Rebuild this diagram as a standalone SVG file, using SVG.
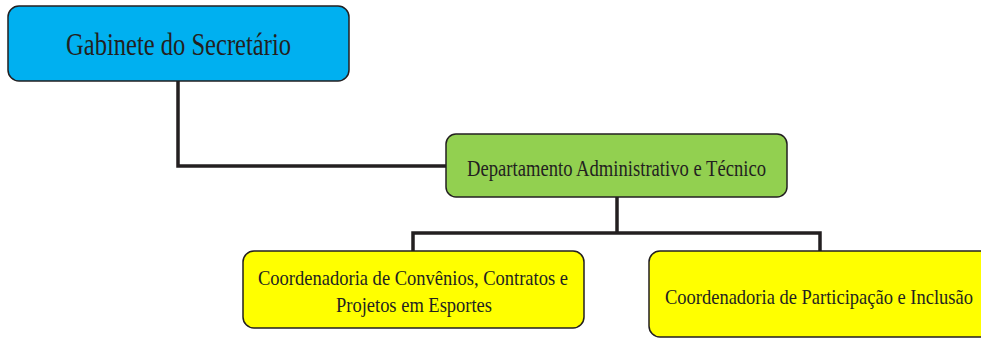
<svg xmlns="http://www.w3.org/2000/svg" width="981" height="338" viewBox="0 0 981 338">
<style>
.box{stroke:#231F20;stroke-width:1.5}
.t{font-family:"Liberation Serif","Times New Roman",serif;fill:#231F20;text-anchor:middle}
.c{fill:none;stroke:#231F20;stroke-width:3.5}
</style>
<rect width="981" height="338" fill="#fff"/>
<g id="connectors">
<path class="c" d="M178,81 V166 H446"/>
<path class="c" d="M617,197 V233"/>
<path class="c" d="M413,251 V233 H820 V251"/>
</g>
<g id="gabinete">
<rect class="box" x="8" y="6" width="341" height="75" rx="11" fill="#00B0F0"/>
<text class="t" x="178.5" y="55" font-size="31" textLength="225" lengthAdjust="spacingAndGlyphs">Gabinete do Secretário</text>
</g>
<g id="departamento">
<rect class="box" x="446" y="134" width="341" height="63" rx="10" fill="#92D050"/>
<text class="t" x="616.5" y="176" font-size="23" textLength="299" lengthAdjust="spacingAndGlyphs">Departamento Administrativo e Técnico</text>
</g>
<g id="convenios">
<rect class="box" x="243" y="251" width="341" height="77" rx="11" fill="#FFFF00"/>
<text class="t" x="413" y="285" font-size="22" textLength="310" lengthAdjust="spacingAndGlyphs">Coordenadoria de Convênios, Contratos e</text>
<text class="t" x="414" y="312" font-size="22" textLength="156" lengthAdjust="spacingAndGlyphs">Projetos em Esportes</text>
</g>
<g id="participacao">
<rect class="box" x="649" y="251" width="345" height="86" rx="11" fill="#FFFF00"/>
<text class="t" x="819" y="304" font-size="22" textLength="308" lengthAdjust="spacingAndGlyphs">Coordenadoria de Participação e Inclusão</text>
</g>
</svg>
